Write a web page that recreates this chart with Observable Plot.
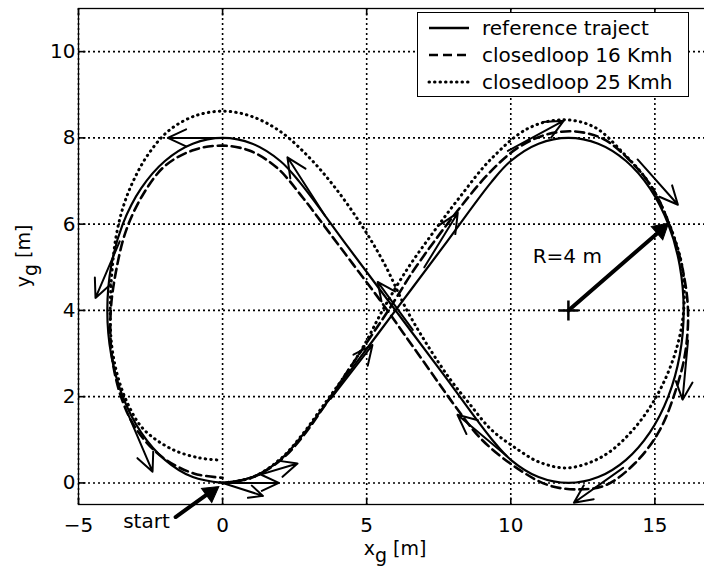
<!DOCTYPE html>
<html><head><meta charset="utf-8">
<script src="https://cdn.jsdelivr.net/npm/d3@7"></script>
<script src="https://cdn.jsdelivr.net/npm/@observablehq/plot@0.6"></script>
<style>
html,body{margin:0;padding:0;background:#fff;overflow:hidden;}
#chart{width:704px;height:569px;overflow:hidden;position:relative;}
#chart svg{max-width:none !important;}
</style></head><body><div id="chart"></div>
<script>
// ---- data ----
const xTicks = [-5, 0, 5, 10, 15];
const yTicks = [0, 2, 4, 6, 8, 10];
const xDomain = [-5, 17];
const yDomain = [-0.5, 11];
const seriesNames = ["reference traject", "closedloop 16 Kmh", "closedloop 25 Kmh"];

const refX = [0,1.035,2.0,2.667,4.33,6,7.67,9.333,10.0,10.965,12,13.035,14,14.828,15.464,15.864,16,15.864,15.464,14.828,14,13.035,12,10.965,10.0,9.333,7.67,6,4.33,2.667,2.0,1.035,0,-1.035,-2.0,-2.828,-3.464,-3.864,-4,-3.864,-3.464,-2.828,-2.0,-1.035,0];
const refY = [0,0.136,0.536,1.019,2.51,4,5.49,6.981,7.464,7.864,8,7.864,7.464,6.828,6.0,5.035,4,2.965,2.0,1.172,0.536,0.136,0,0.136,0.536,1.019,2.51,4,5.49,6.981,7.464,7.864,8,7.864,7.464,6.828,6.0,5.035,4,2.965,2.0,1.172,0.536,0.136,0];

const cl16X = [0,1.0,2.0,2.75,3.6,4.4,5.2,5.8,6.6,7.4,8.2,9.2,10.2,11.2,12.2,13.2,14.1,14.9,15.5,15.95,16.15,16.05,15.7,15.15,14.3,13.3,12.3,11.3,10.2,9.0,8.05,7.2,6.3,5.45,4.55,3.65,2.8,1.9,0.95,0,-1.0,-2.0,-2.75,-3.35,-3.7,-3.88,-3.85,-3.55,-3.0,-2.1,-1.0,0];
const cl16Y = [0,0.12,0.52,1.05,1.85,2.65,3.45,4.05,4.9,5.65,6.35,7.15,7.75,8.07,8.15,7.98,7.5,6.85,6.0,5.0,4.0,3.0,2.1,1.2,0.45,-0.05,-0.15,-0.05,0.35,1.0,1.8,2.6,3.45,4.25,5.05,5.85,6.6,7.3,7.7,7.82,7.72,7.35,6.7,5.85,4.9,4.0,3.0,2.05,1.25,0.6,0.22,0.12];

const cl25X = [0,1.0,2.0,2.8,3.5,4.2,4.9,5.55,6.4,7.3,8.2,9.3,10.6,11.8,12.9,13.9,14.8,15.5,15.95,16.0,15.7,15.05,14.2,13.2,12.0,11.0,10.1,9.3,8.55,7.9,7.15,6.4,5.6,4.8,3.9,3.0,2.0,1.0,0,-1.0,-1.9,-2.6,-3.1,-3.45,-3.7,-3.85,-3.9,-3.85,-3.65,-3.3,-2.75,-1.75,-0.8,-0.1];
const cl25Y = [0,0.12,0.55,1.15,1.8,2.45,3.18,4.0,4.95,5.8,6.6,7.5,8.22,8.42,8.25,7.65,6.95,6.0,5.0,4.0,3.0,2.0,1.2,0.62,0.35,0.48,0.84,1.25,1.85,2.4,3.15,4.0,5.1,6.0,6.85,7.55,8.15,8.5,8.62,8.5,8.15,7.6,7.0,6.4,5.7,4.8,4.0,3.2,2.5,1.85,1.25,0.78,0.58,0.53];

// heading arrows along the paths (tail -> tip)
const arrX1 = [0.2,3.55,-3.57,-3.26,-0.1,0.0,0.6,3.75,7.0,9.9,14.4,16.15,13.9,9.85,6.6];
const arrY1 = [8.0,6.2,5.6,1.56,0.02,0.0,0.05,1.95,5.0,7.7,7.5,3.3,0.35,0.63,3.55];
const arrX2 = [-1.9,2.25,-4.41,-2.43,1.4,1.95,2.6,5.2,8.16,11.84,15.8,15.96,12.19,8.15,5.38];
const arrY2 = [8.0,7.55,4.29,0.26,-0.3,0.0,0.45,3.2,6.26,8.4,6.45,1.93,-0.46,1.58,4.66];

// annotation arrows (radius and start)
const annArrX1 = [12, -1.63];
const annArrY1 = [4, -0.79];
const annArrX2 = [15.45, -0.17];
const annArrY2 = [6.0, -0.09];
const annHeadRotate = [49, 54];
const centerX = [12];
const centerY = [4];
const annText = ["R=4 m", "start"];
const annTextX = [10.76, -3.45];
const annTextY = [5.25, -0.9];

// ---- chart ----
const W = 716, H = 569, mL = 78, mR = 4, mT = 8, mB = 65;
const innerW = W - mL - mR, innerH = H - mT - mB;
const font = "DejaVu Sans";
const gridStyle = {stroke: "#000", strokeWidth: 1.6, strokeDasharray: "2,3"};
const tickLenY = 7 * (yDomain[1] - yDomain[0]) / innerH;
const tickLenX = 7 * (xDomain[1] - xDomain[0]) / innerW;

const svg = Plot.plot({
  width: W, height: H,
  marginLeft: mL, marginRight: mR, marginTop: mT, marginBottom: mB,
  x: {domain: xDomain},
  y: {domain: yDomain},
  style: {fontFamily: font, fontSize: "20px", background: "white", color: "black", maxWidth: "none", overflow: "visible"},
  marks: [
    Plot.ruleX(xTicks, {x: d => d, ...gridStyle}),
    Plot.ruleY(yTicks, {y: d => d, ...gridStyle}),
    Plot.link(xTicks, {x1: d => d, x2: d => d, y1: yDomain[0], y2: yDomain[0] + tickLenY, stroke: "black", strokeWidth: 1.6}),
    Plot.link(xTicks, {x1: d => d, x2: d => d, y1: yDomain[1], y2: yDomain[1] - tickLenY, stroke: "black", strokeWidth: 1.6}),
    Plot.link(yTicks, {y1: d => d, y2: d => d, x1: xDomain[0], x2: xDomain[0] + tickLenX, stroke: "black", strokeWidth: 1.6}),
    Plot.axisX({ticks: xTicks, anchor: "bottom", tickSize: 0, tickPadding: 13, label: null, fontSize: 20}),
    Plot.axisY({ticks: yTicks, anchor: "left", tickSize: 0, tickPadding: 3, label: null, fontSize: 20}),
    Plot.line({length: cl25X.length}, {x: cl25X, y: cl25Y, curve: "catmull-rom", stroke: "black", strokeWidth: 3, strokeDasharray: "0.5,5", strokeLinecap: "round"}),
    Plot.line({length: cl16X.length}, {x: cl16X, y: cl16Y, curve: "catmull-rom", stroke: "black", strokeWidth: 2.6, strokeDasharray: "9,5"}),
    Plot.line({length: refX.length}, {x: refX, y: refY, curve: "catmull-rom", stroke: "black", strokeWidth: 2.2}),
    Plot.arrow({length: arrX1.length}, {x1: arrX1, y1: arrY1, x2: arrX2, y2: arrY2, stroke: "black", strokeWidth: 2, headLength: 16, headAngle: 50}),
    Plot.arrow({length: annArrX1.length}, {x1: annArrX1, y1: annArrY1, x2: annArrX2, y2: annArrY2, stroke: "black", strokeWidth: 4, headLength: 0, insetEnd: 10}),
    Plot.dot({length: annArrX2.length}, {x: annArrX2, y: annArrY2, symbol: "triangle", r: 6.5, fill: "black", stroke: "black", strokeWidth: 1, rotate: annHeadRotate, dx: -7, dy: 5.7}),
    Plot.dot({length: centerX.length}, {x: centerX, y: centerY, symbol: "plus", r: 6.5, stroke: "black", strokeWidth: 2.5}),
    Plot.text(annText, {x: annTextX, y: annTextY, text: d => d, textAnchor: "start", fontSize: 20, fill: "black"}),
    Plot.frame({stroke: "black", strokeWidth: 1.3})
  ]
});
document.getElementById("chart").appendChild(svg);

// ---- axis labels with subscripts ----
const s = d3.select(svg);
const xl = s.append("text")
  .attr("x", mL + innerW / 2).attr("y", 555)
  .attr("text-anchor", "middle").attr("font-family", font).attr("font-size", 19).attr("fill", "black");
xl.append("tspan").text("x");
xl.append("tspan").attr("dy", 7).text("g");
xl.append("tspan").attr("dy", -7).text(" [m]");

const yl = s.append("text")
  .attr("transform", `translate(30,${mT + innerH / 2}) rotate(-90)`)
  .attr("text-anchor", "middle").attr("font-family", font).attr("font-size", 19).attr("fill", "black");
yl.append("tspan").text("y");
yl.append("tspan").attr("dy", 7).text("g");
yl.append("tspan").attr("dy", -7).text(" [m]");

// ---- legend ----
const lg = s.append("g").attr("font-family", font).attr("font-size", 20).attr("text-anchor", "start");
lg.append("rect").attr("x", 417.5).attr("y", 12.5).attr("width", 271).attr("height", 84)
  .attr("fill", "white").attr("stroke", "black").attr("stroke-width", 1);
const dashes = [null, "9,5", "0.5,5"];
const widths = [2.4, 2.6, 3];
seriesNames.forEach((name, i) => {
  const yy = 28 + i * 27;
  lg.append("line").attr("x1", 429).attr("x2", 469).attr("y1", yy).attr("y2", yy)
    .attr("stroke", "black").attr("stroke-width", widths[i])
    .attr("stroke-dasharray", dashes[i]).attr("stroke-linecap", i === 2 ? "round" : "butt");
  lg.append("text").attr("x", 482).attr("y", yy).attr("dy", "0.36em").attr("text-anchor", "start").attr("fill", "black").text(name);
});
</script></body></html>
